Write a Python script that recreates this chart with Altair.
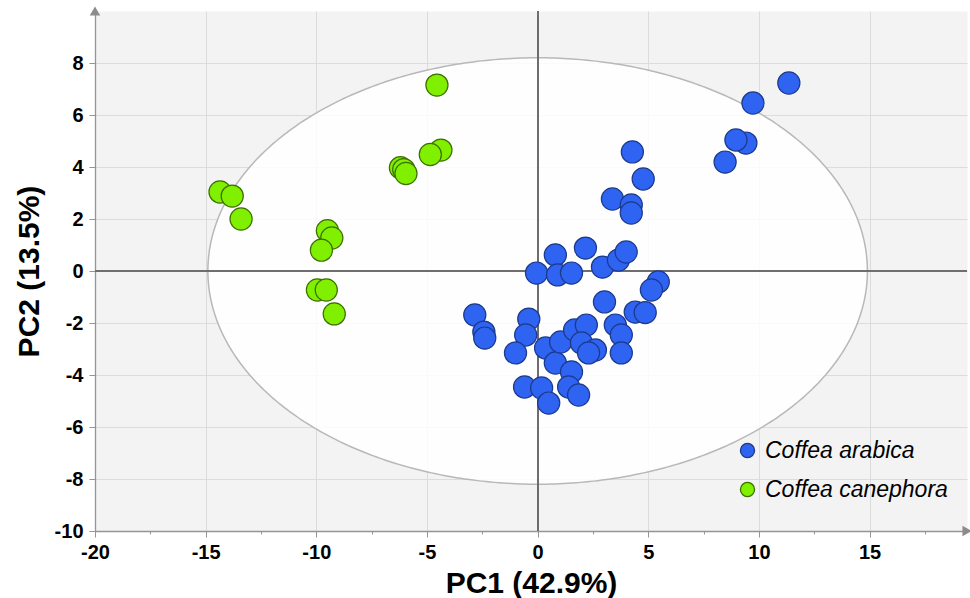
import altair as alt
import numpy as np
import pandas as pd

# ---------------- data ----------------
SPECIES = ["Coffea arabica", "Coffea canephora"]
FILLS = ["#2f63f2", "#80f000"]
STROKES = ["#1c3a8c", "#3d6e00"]

arabica_pc1 = [11.35, 9.73, 9.41, 8.96, 8.47,
               4.28, 4.77, 3.38, 4.23, 4.23,
               -0.05, 0.80, 0.90, 1.53, 2.16, 2.93, 3.65, 4.00,
               5.45, 5.14, 3.02, 4.41, 4.86,
               -2.84, -2.43, -2.39, -0.40, -0.54, -1.00, 0.36, 0.80, 1.53, 1.04, 1.67,
               2.20, 1.98, 2.61, 2.30, 3.51, 3.78, 3.78,
               -0.59, 0.18, 0.50, 1.40, 1.85]
arabica_pc2 = [7.23, 6.46, 4.92, 5.04, 4.19,
               4.58, 3.54, 2.77, 2.54, 2.23,
               -0.08, 0.62, -0.15, -0.08, 0.88, 0.15, 0.42, 0.73,
               -0.42, -0.73, -1.19, -1.58, -1.60,
               -1.69, -2.35, -2.58, -1.85, -2.46, -3.15, -2.96, -3.54, -3.88, -2.73, -2.27,
               -2.08, -2.77, -3.04, -3.15, -2.08, -2.46, -3.15,
               -4.46, -4.50, -5.08, -4.46, -4.77]

canephora_pc1 = [-4.55, -4.37, -4.85, -6.20, -6.05, -5.95, -14.35, -13.80, -13.40,
                 -9.50, -9.30, -9.77, -9.95, -9.55, -9.19]
canephora_pc2 = [7.15, 4.65, 4.48, 3.97, 3.90, 3.75, 3.04, 2.88, 2.00,
                 1.55, 1.27, 0.80, -0.73, -0.73, -1.65]

X_DOMAIN = [-20, 19.4]
Y_DOMAIN = [-10, 10]
X_TICKS = [-20, -17.5, -15, -12.5, -10, -7.5, -5, -2.5, 0, 2.5, 5, 7.5, 10, 12.5, 15, 17.5]
Y_TICKS = list(range(-10, 10))

ELLIPSE_A = 14.9   # Hotelling ellipse semi-axis along PC1
ELLIPSE_B = 8.2    # semi-axis along PC2

FONT = "Liberation Sans"

# ---------------- frames ----------------
points = pd.DataFrame({
    "species": [SPECIES[0]] * len(arabica_pc1) + [SPECIES[1]] * len(canephora_pc1),
    "pc1": arabica_pc1 + canephora_pc1,
    "pc2": arabica_pc2 + canephora_pc2,
})

t_half = np.linspace(0, np.pi, 241)
ell_area = pd.DataFrame({
    "x": ELLIPSE_A * np.cos(t_half),
    "y": ELLIPSE_B * np.sin(t_half),
    "y2": -ELLIPSE_B * np.sin(t_half),
})
t_full = np.linspace(0, 2 * np.pi, 481)
ell_line = pd.DataFrame({
    "x": ELLIPSE_A * np.cos(t_full),
    "y": ELLIPSE_B * np.sin(t_full),
    "o": np.arange(len(t_full)),
})

arrows = pd.DataFrame({
    "x": [X_DOMAIN[1], X_DOMAIN[0]],
    "y": [Y_DOMAIN[0], Y_DOMAIN[1]],
    "shape": ["triangle-right", "triangle-up"],
})

xscale = alt.Scale(domain=X_DOMAIN, nice=False, zero=False)
yscale = alt.Scale(domain=Y_DOMAIN, nice=False, zero=False)

x_axis = alt.Axis(
    values=X_TICKS,
    labelExpr="datum.value % 5 == 0 ? toString(datum.value) : ''",
    tickSize={"condition": {"test": "datum.value % 5 != 0", "value": 3}, "value": 6},
    gridOpacity={"condition": {"test": "datum.value % 5 != 0", "value": 0}, "value": 1},
    title="PC1 (42.9%)",
    titleY=61,
    titleBaseline="alphabetic",
    labelPadding=5,
)
y_axis = alt.Axis(
    values=Y_TICKS,
    labelExpr="datum.value % 2 == 0 ? toString(datum.value) : ''",
    tickSize={"condition": {"test": "datum.value % 2 != 0", "value": 3}, "value": 6},
    gridOpacity={"condition": {"test": "datum.value % 2 != 0", "value": 0}, "value": 1},
    title="PC2 (13.5%)",
    titleX=-57,
    titleBaseline="alphabetic",
    titleAngle=270,
    labelPadding=6,
)

ellipse_fill = alt.Chart(ell_area).mark_area(fill="white", opacity=0.85).encode(
    x=alt.X("x:Q", scale=xscale, axis=x_axis),
    y=alt.Y("y:Q", scale=yscale, axis=y_axis),
    y2="y2:Q",
)
ellipse_edge = alt.Chart(ell_line).mark_line(color="#b8b8b8", strokeWidth=1.5).encode(
    x=alt.X("x:Q", scale=xscale),
    y=alt.Y("y:Q", scale=yscale),
    order="o:Q",
)
zero_v = alt.Chart(points).mark_rule(color="#6e6e6e", strokeWidth=1.2).encode(
    x=alt.datum(0)
)
zero_h = alt.Chart(points).mark_rule(color="#6e6e6e", strokeWidth=1.2).encode(
    y=alt.datum(0)
)

scatter = alt.Chart(points).mark_circle(size=490, opacity=1, strokeWidth=1.2).encode(
    x=alt.X("pc1:Q", scale=xscale),
    y=alt.Y("pc2:Q", scale=yscale),
    fill=alt.Fill(
        "species:N",
        scale=alt.Scale(domain=SPECIES, range=FILLS),
        legend=alt.Legend(
            title=None,
            orient="none",
            legendX=641,
            legendY=428,
            padding=0,
            labelFont=FONT,
            labelFontSize=23,
            labelFontStyle="italic",
            labelColor="black",
            labelLimit=0,
            labelOffset=6,
            rowPadding=15,
            symbolType="circle",
            symbolSize=200,
            symbolStrokeColor="black",
            symbolStrokeWidth=1.3,
            symbolOpacity=1,
        ),
    ),
    stroke=alt.Stroke("species:N", scale=alt.Scale(domain=SPECIES, range=STROKES), legend=None),
)

arrow_marks = alt.Chart(arrows).mark_point(filled=True, size=110, color="#8c8c8c", opacity=1).encode(
    x=alt.X("x:Q", scale=xscale),
    y=alt.Y("y:Q", scale=yscale),
    shape=alt.Shape("shape:N", scale=None, legend=None),
)

chart = alt.layer(ellipse_fill, ellipse_edge, zero_v, zero_h, scatter, arrow_marks).properties(
    width=872,
    height=520,
    autosize=alt.AutoSizeParams(type="none"),
    padding={"left": 95, "top": 11, "right": 3, "bottom": 67},
    background="white",
).configure_view(
    fill="#f3f3f3",
    stroke="transparent",
).configure_axis(
    labelFont=FONT,
    labelFontSize=20,
    labelFontWeight="bold",
    labelColor="black",
    titleFont=FONT,
    titleFontSize=30,
    titleFontWeight="bold",
    titleColor="black",
    domainColor="#959595",
    domainWidth=1.3,
    tickColor="#959595",
    tickWidth=1,
    gridColor="#dcdcdc",
    gridWidth=1,
    labelFlush=False,
    labelOverlap=False,
)

chart.save("out.html", embed_options={"renderer": "svg", "actions": False})
